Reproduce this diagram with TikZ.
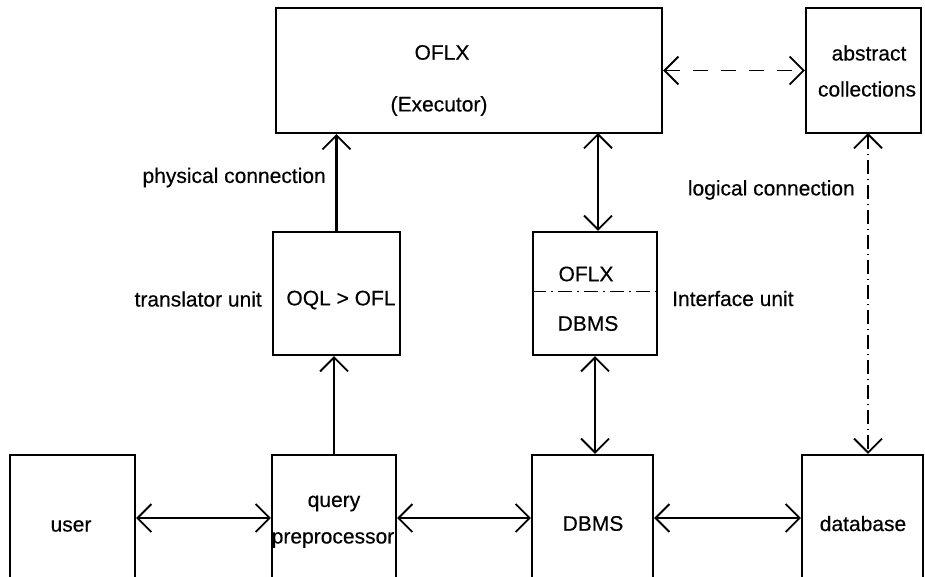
\documentclass[tikz,border=0pt]{standalone}
\usepackage{fontspec}
\setmainfont[FakeBold=0.35]{Liberation Sans}
\usetikzlibrary{arrows.meta}
\tikzset{vbarb/.tip={Straight Barb[length=14pt,width=28pt,line width=1.8pt]}}
\begin{document}
\begin{tikzpicture}[x=1pt,y=-1pt,
  font=\fontsize{21}{25}\selectfont,
  box/.style={draw, line width=2.4pt, rectangle, inner sep=0pt},
  txt/.style={inner sep=0pt},
  conn/.style={line width=2.2pt},
  thinconn/.style={line width=1.1pt},
]
\clip (0,0) rectangle (925,577);
\fill[white] (0,0) rectangle (925,577);
% boxes
\node[box, minimum width=386pt, minimum height=125pt] (exec) at (469,70.5) {};
\node[box, minimum width=115pt, minimum height=125pt] (ac) at (863.5,70.5) {};
\node[box, minimum width=127pt, minimum height=123pt] (tr) at (336.5,293.5) {};
\node[box, minimum width=124pt, minimum height=123pt] (iu) at (595,293.5) {};
\node[box, minimum width=125pt, minimum height=165pt] (user) at (72.5,537.5) {};
\node[box, minimum width=124pt, minimum height=165pt] (qp) at (334,537.5) {};
\node[box, minimum width=121pt, minimum height=165pt] (dbms) at (592.5,537.5) {};
\node[box, minimum width=121pt, minimum height=165pt] (db) at (862.5,537.5) {};
% box texts
\node[txt] (exec1) at (442,52.5) {OFLX};
\node[txt] (exec2) at (439,106) {(Executor)};
\node[txt] (ac1) at (869,53) {abstract};
\node[txt] (ac2) at (867,89) {collections};
\node[txt] (tr1) at (341,300) {OQL > OFL};
\node[txt] (iu1) at (586,274) {OFLX};
\node[txt] (iu2) at (588,323.5) {DBMS};
\node[txt] (user1) at (71,526) {user};
\node[txt] (qp1) at (334,503.5) {query};
\node[txt] (qp2) at (333,540) {preprocessor};
\node[txt] (dbms1) at (593,523.5) {DBMS};
\node[txt] (db1) at (863,523.5) {database};
% outside labels
\node[txt, anchor=east] (lphys) at (326,177.5) {physical connection};
\node[txt, anchor=east] (llog) at (855,190) {logical connection};
\node[txt, anchor=east] (ltr) at (262,299) {translator unit};
\node[txt, anchor=west] (liu) at (672,298.5) {Interface unit};
% divider in interface unit
\draw[thinconn, dash pattern=on 14pt off 5pt on 2pt off 5pt] (iu.west |- 0,291.7) -- (iu.east |- 0,291.7);
% connectors
\coordinate (hrow) at (0,518);
\draw[conn, -{vbarb}] (qp.north) -- (qp.north |- tr.south);
\draw[conn, -{vbarb}] (tr.north) -- (tr.north |- exec.south);
\draw[conn, {vbarb}-{vbarb}] (598,133) coordinate (e1) -- (e1 |- iu.north);
\draw[conn, {vbarb}-{vbarb}] (iu.south) -- (iu.south |- dbms.north);
\draw[conn, {vbarb}-{vbarb}] (user.east |- hrow) -- (qp.west |- hrow);
\draw[conn, {vbarb}-{vbarb}] (qp.east |- hrow) -- (dbms.west |- hrow);
\draw[conn, {vbarb}-{vbarb}] (dbms.east |- hrow) -- (db.west |- hrow);
\draw[thinconn, dash pattern=on 15pt off 13pt, {vbarb}-{vbarb}] (exec.east) -- (ac.west);
\draw[thinconn, dash pattern=on 14pt off 5pt on 1pt off 5pt, {vbarb}-{vbarb}] (868,133) coordinate (a1) -- (a1 |- db.north);
\end{tikzpicture}
\end{document}
